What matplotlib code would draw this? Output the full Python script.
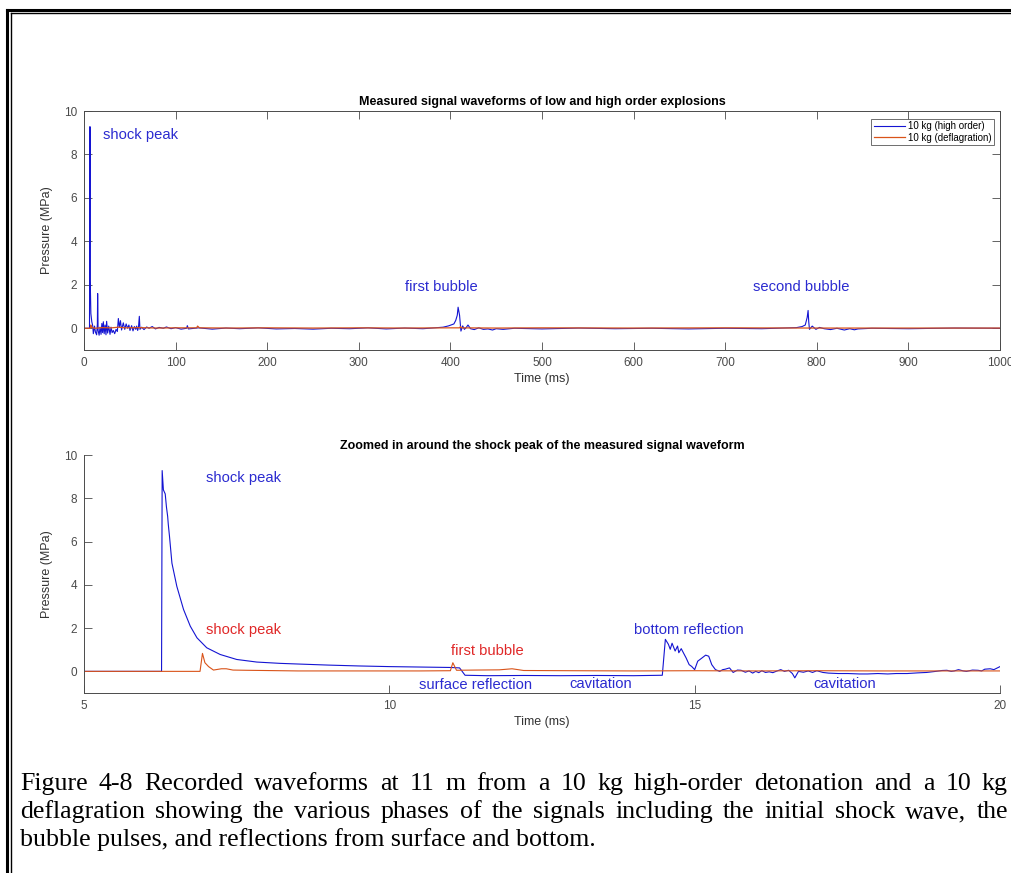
import matplotlib
matplotlib.use('Agg')
import matplotlib.pyplot as plt
from matplotlib.lines import Line2D

# ---- data ----
# top panel, high order (blue), time in ms, pressure in MPa
hi_t = [0, 5.5, 6.0, 6.5, 6.8, 7.5, 8.5, 9.5, 10.2, 11.5, 12.5, 13.8, 14.6, 14.9, 15.4,
        16.5, 17.5, 18.6, 19.5, 20.3, 21.1, 22.0, 23.0, 24.0, 24.7, 25.8, 27.0, 28.4,
        29.5, 30.7, 32.0, 33.5, 35.0, 36.4, 37.5, 38.6, 39.8, 41.0, 42.9, 44.5, 46.0,
        47.6, 49.0, 50.2, 52.0, 53.5, 55.0, 56.5, 57.5, 58.6, 59.5, 60.4, 61.1, 63.0,
        65.5, 68.4, 71.0, 74.5, 78.0, 82.0, 86.6, 90.0, 95.0, 100.0, 106.0, 112.0, 112.8,
        114.0, 125.0, 140.0, 155.0, 170.0, 190.0, 210.0, 230.0, 250.0, 270.0, 290.0,
        310.0, 330.0, 350.0, 370.0, 384.7, 392.0, 398.0, 403.8, 405.8, 407.5, 408.4,
        410.0, 410.8, 411.5, 413.4, 415.3, 417.0, 419.2, 422.0, 426.0, 431.0, 436.0,
        441.0, 446.0, 450.0, 457.5, 470.0, 500.0, 540.0, 580.0, 620.0, 660.0, 700.0,
        740.0, 777.8, 784.0, 787.4, 789.5, 790.5, 791.2, 792.0, 795.0, 799.0, 803.0,
        808.0, 815.0, 822.0, 830.0, 836.0, 841.0, 845.0, 860.0, 900.0, 950.0, 1000.0]
hi_p = [0.0, 0.0, 0.0, 9.28, 2.2, 0.68, 0.3, 0.12, -0.25, 0.1, -0.18, -0.3, 0.2, 1.6,
        -0.1, -0.32, 0.05, -0.28, 0.22, -0.2, 0.3, -0.25, 0.15, -0.3, 0.32, -0.22,
        0.1, -0.28, 0.05, -0.2, -0.1, -0.25, -0.05, -0.15, 0.45, 0.05, 0.35, -0.08,
        0.25, -0.05, 0.2, 0.0, 0.15, -0.1, 0.12, -0.12, 0.08, -0.05, 0.1, -0.1, 0.05,
        0.55, -0.05, 0.05, -0.06, 0.06, 0.0, 0.08, -0.03, 0.04, 0.0, 0.06, -0.02,
        0.03, -0.04, 0.0, 0.12, -0.03, 0.02, -0.04, 0.01, -0.02, 0.02, -0.03, -0.01,
        -0.04, 0.0, -0.02, 0.02, -0.03, 0.01, -0.02, 0.03, 0.05, 0.11, 0.2, 0.36, 0.6,
        0.97, 0.6, 0.2, -0.13, 0.11, -0.05, 0.02, 0.15, -0.02, -0.06, 0.02, -0.05,
        -0.03, -0.08, -0.02, -0.05, 0.0, -0.03, 0.01, -0.02, 0.0, -0.03, 0.0, -0.02,
        0.03, 0.08, 0.15, 0.5, 0.82, 0.3, -0.05, 0.1, -0.05, 0.04, -0.02, -0.06,
        0.0, -0.08, -0.02, -0.07, -0.03, 0.0, -0.02, 0.01, 0.0]

# top panel, deflagration (orange)
lo_t = [0, 6.5, 7.0, 7.4, 8.0, 10.0, 12.0, 20.0, 30.0, 38.0, 45.0, 60.0, 80.0, 100.0,
        123.0, 124.0, 126.0, 160.0, 200.0, 250.0, 300.0, 350.0, 400.0, 410.0, 411.0,
        412.0, 450.0, 500.0, 600.0, 700.0, 800.0, 900.0, 1000.0]
lo_p = [0.0, 0.0, 0.0, 0.15, 0.05, 0.02, 0.0, 0.03, 0.02, 0.05, 0.02, 0.03, 0.01, 0.02,
        0.02, 0.1, 0.02, 0.01, 0.02, 0.01, 0.02, 0.01, 0.02, 0.02, 0.08, 0.02, 0.01,
        0.02, 0.01, 0.02, 0.01, 0.01, 0.01]

# bottom panel, zoom 5-20 ms, high order (blue)
zhi_t = [5.0, 5.8, 6.27, 6.28, 6.30, 6.33, 6.35, 6.37, 6.38, 6.40, 6.44, 6.52, 6.63,
         6.74, 6.85, 7.01, 7.23, 7.50, 7.83, 8.21, 8.5, 9.0, 9.5, 10.0, 10.5, 11.0,
         11.15, 11.24, 11.6, 12.2, 12.8, 13.4, 14.0, 14.47, 14.52, 14.57, 14.60, 14.63,
         14.68, 14.72, 14.74, 14.78, 14.83, 14.86, 14.91, 14.95, 15.00, 15.05, 15.12,
         15.18, 15.23, 15.28, 15.34, 15.41, 15.46, 15.50, 15.57, 15.63, 15.70, 15.76,
         15.83, 15.89, 15.95, 16.0, 16.05, 16.1, 16.16, 16.22, 16.28, 16.35, 16.41,
         16.47, 16.54, 16.60, 16.64, 16.70, 16.78, 16.86, 16.93, 17.0, 17.1, 17.19,
         17.35, 17.51, 17.7, 17.83, 18.0, 18.16, 18.3, 18.48, 18.65, 18.80, 18.95,
         19.05, 19.13, 19.2, 19.25, 19.32, 19.4, 19.45, 19.55, 19.64, 19.7, 19.75,
         19.84, 19.9, 19.95, 20.0]
zhi_p = [0.0, 0.0, 0.0, 9.28, 8.39, 8.2, 7.6, 7.16, 6.8, 6.24, 5.0, 3.93, 2.86, 2.09,
         1.55, 1.09, 0.78, 0.55, 0.43, 0.37, 0.34, 0.29, 0.25, 0.22, 0.2, 0.18, 0.16,
         -0.18, -0.2, -0.19, -0.2, -0.19, -0.2, -0.18, 1.48, 1.25, 1.02, 1.30, 0.94,
         1.17, 0.86, 1.05, 0.78, 0.62, 0.31, 0.23, 0.08, 0.47, 0.62, 0.75, 0.70, 0.31,
         0.08, 0.0, 0.08, 0.1, 0.16, -0.05, 0.06, 0.05, -0.04, 0.02, -0.08, 0.0, -0.06,
         0.03, -0.05, -0.02, -0.06, 0.02, 0.08, 0.0, 0.05, -0.1, -0.3, 0.0, -0.04,
         0.02, -0.05, 0.03, -0.05, -0.08, -0.1, -0.1, -0.12, -0.12, -0.1, -0.12, -0.1,
         -0.1, -0.07, -0.05, 0.0, 0.04, 0.05, 0.0, 0.02, 0.08, 0.02, 0.0, 0.06, 0.05,
         0.02, 0.1, 0.12, 0.08, 0.15, 0.22]

# bottom panel, deflagration (orange)
zlo_t = [5.0, 6.9, 6.94, 6.98, 7.04, 7.12, 7.25, 7.33, 7.44, 7.66, 8.5, 9.5, 10.5,
         11.0, 11.04, 11.1, 11.4, 11.8, 12.01, 12.2, 13.0, 14.0, 15.0, 16.0, 17.0,
         18.0, 19.0, 20.0]
zlo_p = [0.0, 0.0, 0.83, 0.40, 0.22, 0.06, 0.12, 0.12, 0.06, 0.05, 0.02, 0.02, 0.02,
         0.03, 0.4, 0.05, 0.06, 0.07, 0.12, 0.04, 0.03, 0.02, 0.03, 0.02, 0.03, 0.02,
         0.02, 0.02]

top_xticks = [0, 100, 200, 300, 400, 500, 600, 700, 800, 900, 1000]
bot_xticks = [5, 10, 15, 20]
yticks = [0, 2, 4, 6, 8, 10]

caption = ["Figure 4-8 Recorded waveforms at 11 m from a 10 kg high-order detonation and a 10 kg",
           "deflagration showing the various phases of the signals including the initial shock wave, the",
           "bubble pulses, and reflections from surface and bottom."]

BLUE = '#1414d2'
ORANGE = '#d95319'
RED = '#e02828'
TXTBLUE = '#2b2bd0'
AXC = '#4a4a4a'

plt.rcParams['font.family'] = ['Liberation Sans', 'DejaVu Sans']

W, H = 1011, 873
fig = plt.figure(figsize=(W / 100, H / 100), dpi=100)


def box(x0, y0, x1, y1):
    return [x0 / W, 1 - y1 / H, (x1 - x0) / W, (y1 - y0) / H]


ax = fig.add_axes(box(84, 111, 1000, 350))
ax2 = fig.add_axes(box(84, 455, 1000, 693))

ax.plot(hi_t, hi_p, color=BLUE, lw=0.8, label='10 kg (high order)')
ax.plot(lo_t, lo_p, color=ORANGE, lw=0.9, label='10 kg (deflagration)')
ax.set_xlim(0, 1000)
ax.set_ylim(-1, 10)
ax.set_xticks(top_xticks)
ax.set_yticks(yticks)
ax.tick_params(direction='in', top=True, right=True, length=6, width=0.6,
               labelsize=8.5, colors=AXC, pad=5)
for s in ax.spines.values():
    s.set_color(AXC)
    s.set_linewidth(0.7)
ax.set_title('Measured signal waveforms of low and high order explosions',
             fontsize=9, fontweight='bold', pad=4)
ax.set_xlabel('Time (ms)', fontsize=9, color='#333333', labelpad=3)
ax.set_ylabel('Pressure (MPa)', fontsize=9, color='#333333', labelpad=8)
leg = ax.legend(loc='upper right', bbox_to_anchor=(0.993, 0.968), fontsize=7,
                frameon=True, fancybox=False, edgecolor=AXC, handlelength=3.2,
                handletextpad=0.3, borderpad=0.25, labelspacing=0.15,
                borderaxespad=0)
leg.get_frame().set_linewidth(0.7)

ax.text(20.7, 8.9, 'shock peak', color=TXTBLUE, fontsize=10.6, va='center')
ax.text(390, 1.9, 'first bubble', color=TXTBLUE, fontsize=10.6, ha='center', va='center')
ax.text(783, 1.9, 'second bubble', color=TXTBLUE, fontsize=10.6, ha='center', va='center')

ax2.plot(zhi_t, zhi_p, color=BLUE, lw=0.8)
ax2.plot(zlo_t, zlo_p, color=ORANGE, lw=0.8)
ax2.set_xlim(5, 20)
ax2.set_ylim(-1, 10)
ax2.set_xticks(bot_xticks)
ax2.set_yticks(yticks)
ax2.tick_params(direction='in', length=6, width=0.6, labelsize=8.5, colors=AXC, pad=5)
ax2.spines['top'].set_visible(False)
ax2.spines['right'].set_visible(False)
for s in ('left', 'bottom'):
    ax2.spines[s].set_color(AXC)
    ax2.spines[s].set_linewidth(0.7)
ax2.set_title('Zoomed in around the shock peak of the measured signal waveform',
              fontsize=9, fontweight='bold', pad=4)
ax2.set_xlabel('Time (ms)', fontsize=9, color='#333333', labelpad=3)
ax2.set_ylabel('Pressure (MPa)', fontsize=9, color='#333333', labelpad=8)

ax2.text(7.61, 8.94, 'shock peak', color=TXTBLUE, fontsize=10.6, ha='center', va='center')
ax2.text(7.61, 1.89, 'shock peak', color=RED, fontsize=10.6, ha='center', va='center')
ax2.text(11.6, 0.92, 'first bubble', color=RED, fontsize=10.6, ha='center', va='center')
ax2.text(14.91, 1.89, 'bottom reflection', color=TXTBLUE, fontsize=10.6, ha='center', va='center')
ax2.text(11.41, -0.65, 'surface reflection', color=TXTBLUE, fontsize=10.6, ha='center', va='center')
ax2.text(13.47, -0.6, 'cavitation', color=TXTBLUE, fontsize=10.6, ha='center', va='center')
ax2.text(17.45, -0.6, 'cavitation', color=TXTBLUE, fontsize=10.6, ha='center', va='center')

# caption: first two lines justified to the right edge, last one left aligned
renderer = fig.canvas.get_renderer()
cap_left, cap_right = 20, 1008
for i, line in enumerate(caption):
    ypos = 1 - (784 + 28 * i) / H
    words = line.split()
    if i == len(caption) - 1:
        fig.text(cap_left / W, ypos, line, family='Liberation Serif', fontsize=18.6,
                 va='center', ha='left')
        continue
    texts = [fig.text(0, ypos, w_, family='Liberation Serif', fontsize=18.6,
                      va='center', ha='left') for w_ in words]
    widths = [t.get_window_extent(renderer).width for t in texts]
    gap = (cap_right - cap_left - sum(widths)) / (len(words) - 1)
    x = cap_left
    for t, wd in zip(texts, widths):
        t.set_x(x / W)
        x += wd + gap

# double frame on the left and top
fig.add_artist(Line2D([7 / W, 7 / W], [0, 1 - 10 / H], color='black', lw=2.2,
                      transform=fig.transFigure))
fig.add_artist(Line2D([11 / W, 11 / W], [0, 1 - 13 / H], color='black', lw=1.0,
                      transform=fig.transFigure))
fig.add_artist(Line2D([7 / W, 1], [1 - 10 / H, 1 - 10 / H], color='black', lw=2.2,
                      transform=fig.transFigure))
fig.add_artist(Line2D([11 / W, 1], [1 - 13 / H, 1 - 13 / H], color='black', lw=1.0,
                      transform=fig.transFigure))

fig.savefig('out.png', dpi=100)
